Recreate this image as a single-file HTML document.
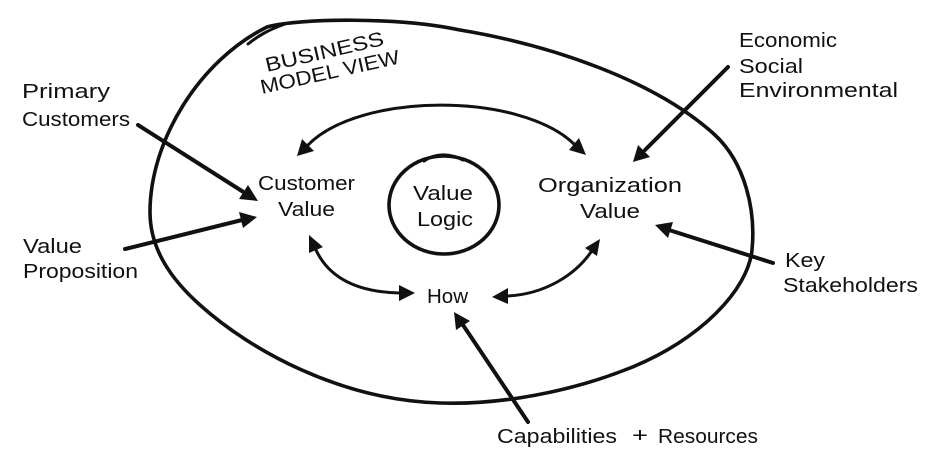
<!DOCTYPE html>
<html>
<head>
<meta charset="utf-8">
<style>
  html, body { margin: 0; padding: 0; background: #ffffff; }
  body { width: 926px; height: 468px; overflow: hidden; }
  svg { display: block; }
  text { font-family: "Liberation Sans", "DejaVu Sans", sans-serif; font-size: 20px; fill: #111; }
</style>
</head>
<body>
<svg width="926" height="468" viewBox="0 0 926 468" xmlns="http://www.w3.org/2000/svg">
  <rect width="926" height="468" fill="#ffffff"/>

  <!-- Outer ellipse (hand drawn) -->
  <path d="M 267,27 C 300,18 400,17 460,30 C 550,45 655,80 715,135 C 745,163 756,210 752,250 C 748,290 700,340 630,368 C 570,392 500,405 440,403 C 340,400 250,350 200,305 C 172,280 150,250 150,212 C 150,140 200,60 267,27 Z"
        fill="none" stroke="#111" stroke-width="3.6" stroke-linejoin="round"/>
  <path d="M 248,44 C 258,36 268,30 285,24" fill="none" stroke="#111" stroke-width="3" stroke-linecap="round"/>

  <!-- Inner circle -->
  <ellipse cx="444" cy="205" rx="55" ry="49" fill="none" stroke="#111" stroke-width="3.6"/>
  <path d="M 424,161 C 435,153 450,153 463,160" fill="none" stroke="#111" stroke-width="3" stroke-linecap="round"/>

  <!-- Top curved double arrow -->
  <path d="M 308,145 C 360,92 520,92 574,144" fill="none" stroke="#111" stroke-width="3" stroke-linecap="round"/>
  <polygon points="297,156 302,139 314,151" fill="#111"/>
  <polygon points="586,155 569,150 579,138" fill="#111"/>

  <!-- Lower-left curved double arrow -->
  <path d="M 316,250 C 330,280 360,292 399,293" fill="none" stroke="#111" stroke-width="3" stroke-linecap="round"/>
  <polygon points="309,235 323,247 309,253" fill="#111"/>
  <polygon points="415,293 399,285 399,301" fill="#111"/>

  <!-- Lower-right curved double arrow -->
  <path d="M 508,296 C 545,294 575,275 591,252" fill="none" stroke="#111" stroke-width="3" stroke-linecap="round"/>
  <polygon points="492,297 508,288 508,304" fill="#111"/>
  <polygon points="600,239 597,256 585,248" fill="#111"/>

  <!-- Straight arrows -->
  <g stroke="#111" stroke-width="4" stroke-linecap="round">
    <line x1="138" y1="125" x2="245" y2="193"/>
    <line x1="125" y1="249" x2="242" y2="220"/>
    <line x1="728" y1="67" x2="645" y2="150"/>
    <line x1="773" y1="263" x2="669" y2="230"/>
    <line x1="528" y1="422" x2="463" y2="325"/>
  </g>
  <polygon points="258,201 239,199 248,185" fill="#111"/>
  <polygon points="257,217 243,228 239,212" fill="#111"/>
  <polygon points="633,162 638,145 650,157" fill="#111"/>
  <polygon points="655,225 673,222 668,238" fill="#111"/>
  <polygon points="454,312 470,321 456,330" fill="#111"/>

  <!-- Title -->
  <text transform="translate(267,72) rotate(-13)" font-size="18" textLength="121" lengthAdjust="spacingAndGlyphs">BUSINESS</text>
  <text transform="translate(262,94) rotate(-12.5)" font-size="18" textLength="142" lengthAdjust="spacingAndGlyphs">MODEL VIEW</text>

  <!-- Left labels -->
  <text x="22" y="98" textLength="88" lengthAdjust="spacingAndGlyphs">Primary</text>
  <text x="22" y="126" textLength="108" lengthAdjust="spacingAndGlyphs">Customers</text>
  <text x="23" y="253" textLength="59" lengthAdjust="spacingAndGlyphs">Value</text>
  <text x="23" y="278" textLength="115" lengthAdjust="spacingAndGlyphs">Proposition</text>

  <!-- Center nodes -->
  <text x="258" y="190" textLength="97" lengthAdjust="spacingAndGlyphs">Customer</text>
  <text x="278" y="216" textLength="57" lengthAdjust="spacingAndGlyphs">Value</text>

  <text x="413" y="200" textLength="60" lengthAdjust="spacingAndGlyphs">Value</text>
  <text x="417" y="226" textLength="56" lengthAdjust="spacingAndGlyphs">Logic</text>

  <text x="538" y="192" textLength="144" lengthAdjust="spacingAndGlyphs">Organization</text>
  <text x="580" y="218" textLength="60" lengthAdjust="spacingAndGlyphs">Value</text>

  <text x="427" y="303" textLength="41" lengthAdjust="spacingAndGlyphs">How</text>

  <!-- Right labels -->
  <text x="739" y="47" textLength="98" lengthAdjust="spacingAndGlyphs">Economic</text>
  <text x="739" y="73" textLength="64" lengthAdjust="spacingAndGlyphs">Social</text>
  <text x="739" y="97" textLength="159" lengthAdjust="spacingAndGlyphs">Environmental</text>

  <text x="785" y="267" textLength="40" lengthAdjust="spacingAndGlyphs">Key</text>
  <text x="783" y="292" textLength="135" lengthAdjust="spacingAndGlyphs">Stakeholders</text>

  <!-- Bottom label -->
  <text x="497" y="443" textLength="120" lengthAdjust="spacingAndGlyphs">Capabilities</text>
  <text x="632" y="442" textLength="16" lengthAdjust="spacingAndGlyphs">+</text>
  <text x="658" y="443" textLength="100" lengthAdjust="spacingAndGlyphs">Resources</text>
</svg>
</body>
</html>
